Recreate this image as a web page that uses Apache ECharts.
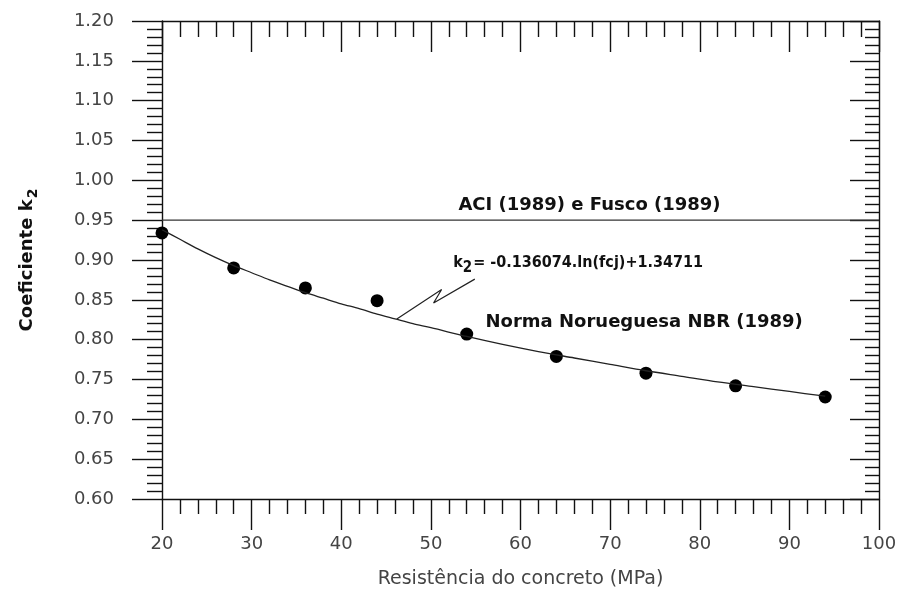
<!DOCTYPE html>
<html>
<head>
<meta charset="utf-8">
<script src="https://cdn.jsdelivr.net/npm/echarts@6/dist/echarts.min.js"></script>
<style>
html,body{margin:0;padding:0;background:#fff;}
#chart{width:898px;height:592px;}
</style>
</head>
<body>
<div id="chart"></div>
<script>
// ---- data ----
var xTicks = [20, 30, 40, 50, 60, 70, 80, 90, 100];
var yTicks = ['0.60','0.65','0.70','0.75','0.80','0.85','0.90','0.95','1.00','1.05','1.10','1.15','1.20'];
var fcjPoints = [20, 28, 36, 44, 54, 64, 74, 84, 94];
var k2Points = [0.934, 0.890, 0.865, 0.849, 0.807, 0.779, 0.758, 0.742, 0.728];
var curveX = [20, 22, 24, 26, 28, 30, 32, 34, 36, 38, 40, 42, 44, 46, 48, 50, 54, 58, 62, 66, 70, 74, 78, 82, 86, 90, 94];
var curveY = [0.938, 0.926, 0.914, 0.903, 0.893, 0.884, 0.875, 0.867, 0.859, 0.852, 0.845, 0.839, 0.832, 0.826, 0.820, 0.815, 0.804, 0.794, 0.785, 0.777, 0.769, 0.761, 0.754, 0.747, 0.741, 0.735, 0.729];
var aciX = [20, 100];
var aciY = [0.95, 0.95];
var leaderX = [46.2, 51.2, 50.3, 54.9];
var leaderY = [0.826, 0.863, 0.846, 0.876];
var labelAci = 'ACI (1989) e Fusco (1989)';
var labelNorma = 'Norma Norueguesa NBR (1989)';
var labelEqA = 'k';
var labelEqSub = '2';
var labelEqB = '= -0.136074.ln(fcj)+1.34711';
var xName = 'Resistência do concreto (MPa)';
var yNameA = 'Coeficiente k';
var yNameSub = '2';

function zip(a, b) { return a.map(function (v, i) { return [v, b[i]]; }); }

var FONT = 'DejaVu Sans';
var AX = '#111';
var LBL = '#444';

var chart = echarts.init(document.getElementById('chart'), null, {renderer: 'canvas'});

var xBase = {
  type: 'value', min: xTicks[0], max: xTicks[xTicks.length - 1], interval: 10,
  splitLine: {show: false},
  axisLine: {show: true, onZero: false, lineStyle: {color: AX, width: 1.4}}
};
var yBase = {
  type: 'value', min: 0.6, max: 1.2, interval: 0.05,
  splitLine: {show: false},
  axisLine: {show: true, onZero: false, lineStyle: {color: AX, width: 1.4}}
};

var option = {
  animation: false,
  backgroundColor: '#fff',
  grid: {left: 162, right: 19, top: 21, bottom: 93, containLabel: false, outerBoundsMode: 'none'},
  xAxis: [
    Object.assign({}, xBase, {
      position: 'bottom',
      name: xName, nameLocation: 'middle', nameGap: 71,
      nameTextStyle: {fontFamily: FONT, fontSize: 19, color: LBL},
      axisTick: {show: true, inside: false, length: 31, lineStyle: {color: AX, width: 1.4}},
      minorTick: {show: true, splitNumber: 5, length: 15, lineStyle: {color: AX, width: 1.4}},
      axisLabel: {show: true, margin: 36, fontFamily: FONT, fontSize: 18, color: LBL,
        formatter: function (v) { return String(Math.round(v)); }}
    }),
    Object.assign({}, xBase, {
      position: 'top',
      axisTick: {show: true, inside: true, length: 31, lineStyle: {color: AX, width: 1.4}},
      minorTick: {show: true, splitNumber: 5, length: 16, lineStyle: {color: AX, width: 1.4}},
      axisLabel: {show: false}
    })
  ],
  yAxis: [
    Object.assign({}, yBase, {
      position: 'left',
      name: '{a|' + yNameA + '}{s|' + yNameSub + '}',
      nameLocation: 'middle', nameGap: 122, nameRotate: 90,
      nameTextStyle: {
        fontFamily: FONT, fontSize: 18, fontWeight: 'bold', color: '#111',
        rich: {
          a: {fontFamily: FONT, fontSize: 18, fontWeight: 'bold', color: '#111'},
          s: {fontFamily: FONT, fontSize: 14, fontWeight: 'bold', color: '#111', padding: [12, 0, 0, 1]}
        }
      },
      axisTick: {show: true, inside: false, length: 30, lineStyle: {color: AX, width: 1.4}},
      minorTick: {show: true, splitNumber: 5, length: 15, lineStyle: {color: AX, width: 1.4}},
      axisLabel: {show: true, margin: 48, fontFamily: FONT, fontSize: 18, color: LBL,
        formatter: function (v) { return v.toFixed(2); }}
    }),
    Object.assign({}, yBase, {
      position: 'right',
      axisTick: {show: true, inside: true, length: 29, lineStyle: {color: AX, width: 1.4}},
      minorTick: {show: true, splitNumber: 5, length: 14, lineStyle: {color: AX, width: 1.4}},
      axisLabel: {show: false}
    })
  ],
  series: [
    {
      type: 'line', data: zip(aciX, aciY), symbol: 'none', silent: true,
      lineStyle: {color: '#333', width: 1.3}
    },
    {
      type: 'line', data: zip(curveX, curveY), symbol: 'none', smooth: 0.3, silent: true,
      lineStyle: {color: '#222', width: 1.3}
    },
    {
      type: 'line', data: zip(leaderX, leaderY), symbol: 'none', silent: true,
      lineStyle: {color: '#222', width: 1.2}
    },
    {
      type: 'scatter', data: zip(fcjPoints, k2Points), symbol: 'circle', symbolSize: 13,
      itemStyle: {color: '#000', opacity: 1}, silent: true
    },
    {
      type: 'scatter', symbolSize: 0, silent: true,
      itemStyle: {opacity: 1},
      data: [
        {value: [67.7, 0.969], label: {formatter: labelAci, align: 'center'}},
        {value: [56.1, 0.822], label: {formatter: labelNorma, align: 'left'}}
      ],
      label: {show: true, position: 'inside', verticalAlign: 'middle',
        fontFamily: FONT, fontSize: 18, fontWeight: 'bold', color: '#111'}
    },
    {
      type: 'scatter', symbolSize: 0, silent: true,
      itemStyle: {opacity: 1},
      data: [{value: [52.5, 0.8965]}],
      label: {show: true, position: 'inside', align: 'left', verticalAlign: 'middle',
        formatter: '{k|' + labelEqA + '}{s|' + labelEqSub + '}{k|' + labelEqB + '}',
        rich: {
          k: {fontFamily: 'DejaVu Sans Condensed', fontSize: 16, fontWeight: 'bold', color: '#111'},
          s: {fontFamily: 'DejaVu Sans Condensed', fontSize: 15, fontWeight: 'bold', color: '#111', padding: [10, 1, 0, 0]}
        }}
    }
  ]
};
chart.setOption(option);
</script>
</body>
</html>
